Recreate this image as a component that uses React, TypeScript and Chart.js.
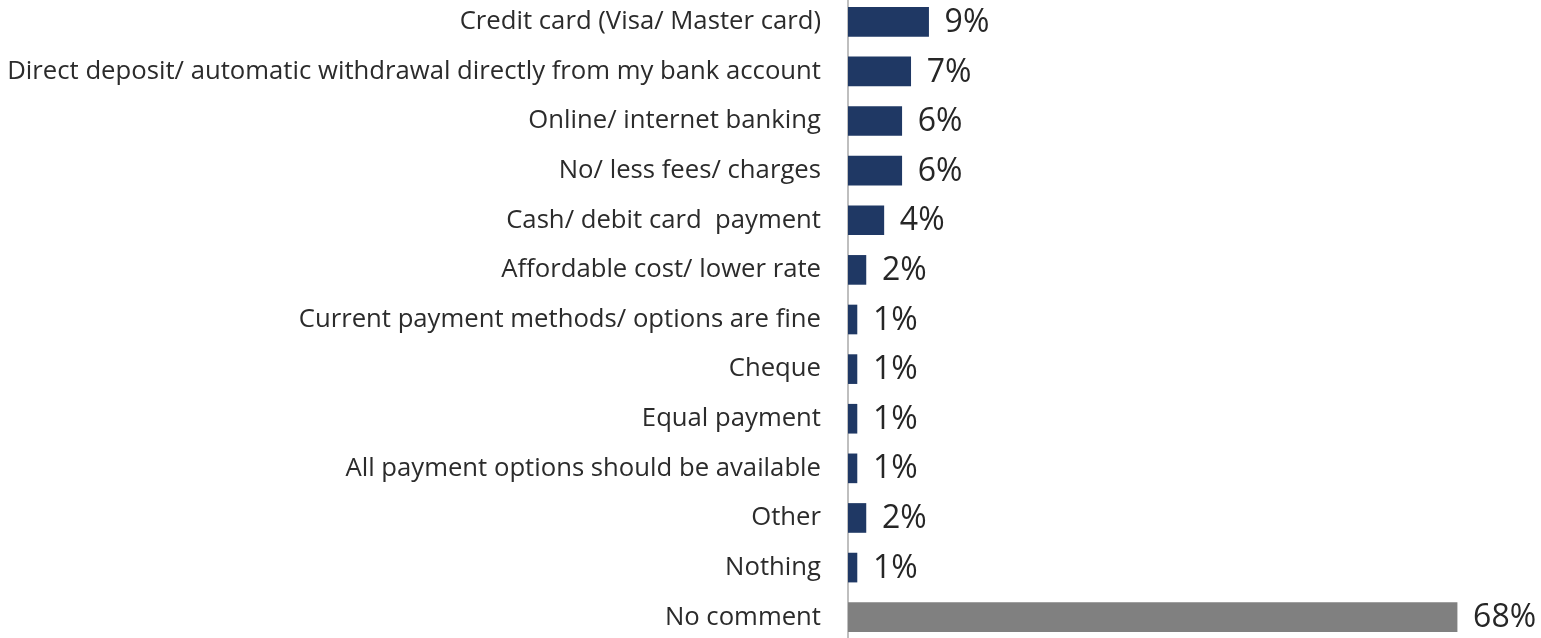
import React, { useEffect, useRef } from "react";
import { Chart, registerables } from "chart.js";

Chart.register(...registerables);

const categories = [
  "Credit card (Visa/ Master card)",
  "Direct deposit/ automatic withdrawal directly from my bank account",
  "Online/ internet banking",
  "No/ less fees/ charges",
  "Cash/ debit card  payment",
  "Affordable cost/ lower rate",
  "Current payment methods/ options are fine",
  "Cheque",
  "Equal payment",
  "All payment options should be available",
  "Other",
  "Nothing",
  "No comment",
];
const values = [9, 7, 6, 6, 4, 2, 1, 1, 1, 1, 2, 1, 68];
const valueLabels = ["9%", "7%", "6%", "6%", "4%", "2%", "1%", "1%", "1%", "1%", "2%", "1%", "68%"];
const barColors = [
  "#1F3864", "#1F3864", "#1F3864", "#1F3864", "#1F3864", "#1F3864", "#1F3864",
  "#1F3864", "#1F3864", "#1F3864", "#1F3864", "#1F3864", "#808080",
];

const FONT = "'Open Sans', 'Noto Sans', sans-serif";

const labelPlugin = {
  id: "valueLabels",
  afterDatasetsDraw(chart: any) {
    const ctx = chart.ctx;
    const meta = chart.getDatasetMeta(0);
    ctx.save();
    ctx.font = `32px ${FONT}`;
    ctx.fillStyle = "#262626";
    ctx.textAlign = "left";
    ctx.textBaseline = "middle";
    meta.data.forEach((bar: any, i: number) => {
      ctx.fillText(valueLabels[i], bar.x + 16, bar.y + 1);
    });
    ctx.restore();
  },
};

export default function App() {
  const ref = useRef<HTMLCanvasElement>(null);
  useEffect(() => {
    if (!ref.current) return;
    const chart = new Chart(ref.current, {
      type: "bar",
      data: {
        labels: categories,
        datasets: [
          {
            data: values,
            backgroundColor: barColors,
            borderWidth: 0,
            barThickness: 29,
          },
        ],
      },
      options: {
        indexAxis: "y",
        animation: false,
        responsive: true,
        maintainAspectRatio: false,
        layout: { autoPadding: false, padding: { left: 0, right: 66, top: 0, bottom: 0 } },
        plugins: {
          legend: { display: false },
          tooltip: { enabled: false },
        },
        scales: {
          x: {
            min: 0,
            max: 70,
            display: false,
            grid: { display: false },
          },
          y: {
            grid: { display: false, drawTicks: false },
            border: { display: true, color: "#BFBFBF", width: 2 },
            ticks: {
              color: "#2B2B2B",
              font: { family: FONT, size: 25.7 },
              padding: 27,
              autoSkip: false,
            },
            afterFit(scale: any) {
              scale.width = 848;
              scale.paddingTop = 0;
              scale.paddingBottom = 0;
            },
          },
        },
      },
      plugins: [labelPlugin],
    });
    return () => chart.destroy();
  }, []);
  return (
    <div style={{ position: "fixed", left: 0, top: -3, width: 1541, height: 645 }}>
      <canvas ref={ref} />
    </div>
  );
}
